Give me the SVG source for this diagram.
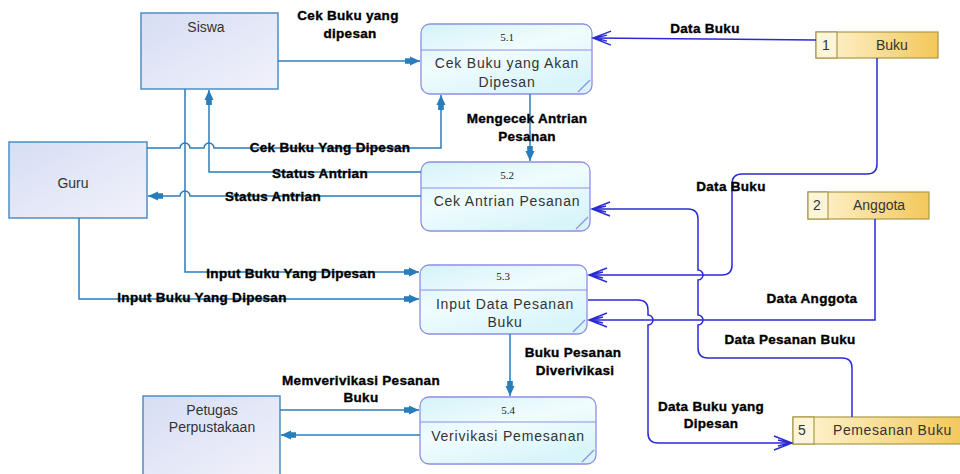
<svg xmlns="http://www.w3.org/2000/svg" width="960" height="474" viewBox="0 0 960 474">
  <defs>
    <linearGradient id="gEnt" x1="0" y1="0" x2="1" y2="1">
      <stop offset="0" stop-color="#d6def4"/>
      <stop offset="1" stop-color="#f1f1fa"/>
    </linearGradient>
    <linearGradient id="gProc" x1="0" y1="0" x2="0.6" y2="1">
      <stop offset="0" stop-color="#d4f3f9"/>
      <stop offset="0.5" stop-color="#f1fcfe"/>
      <stop offset="1" stop-color="#d8f5fa"/>
    </linearGradient>
    <linearGradient id="gStore" x1="0" y1="0" x2="1" y2="0">
      <stop offset="0" stop-color="#fff6d6"/>
      <stop offset="1" stop-color="#f3c75a"/>
    </linearGradient>
    <!-- filled arrowhead used on entity flows -->
    <marker id="fa" viewBox="-16 -6 18 12" refX="0" refY="0" markerWidth="18" markerHeight="12" markerUnits="userSpaceOnUse" orient="auto" overflow="visible">
      <path d="M-10,-4.5 L0,0 L-10,4.5 Z M-15,-2.8 H-8 V2.8 H-15 Z" fill="#2a7dbb"/>
    </marker>
    <!-- open arrowhead used on data store flows -->
    <marker id="oa" viewBox="-20 -9 22 18" refX="0" refY="0" markerWidth="22" markerHeight="18" markerUnits="userSpaceOnUse" orient="auto" overflow="visible">
      <path d="M-18,-7 L0,0 L-18,7 M-14,-3 L-2,0 L-14,3" fill="none" stroke="#2a2ad4" stroke-width="1.4"/>
    </marker>
    <style>
      .ent { fill: url(#gEnt); stroke: #4f8ec2; stroke-width: 1.5; }
      .proc { fill: url(#gProc); stroke: #8f8fe4; stroke-width: 1.3; }
      .sep { stroke: #8f8fe4; stroke-width: 1.2; fill: none; }
      .store { fill: url(#gStore); stroke: #a99a48; stroke-width: 1.2; }
      .storeNum { fill: #fdf5da; stroke: #a99a48; stroke-width: 1.2; }
      .ntxt { font-family: "Liberation Sans", Arial, sans-serif; font-size: 14px; fill: #333; text-anchor: middle; }
      .ptxt { font-family: "Liberation Sans", Arial, sans-serif; font-size: 14px; fill: #333; text-anchor: middle; letter-spacing: 0.8px; }
      .pnum { font-family: "Liberation Serif", "Times New Roman", serif; font-size: 11px; fill: #222; text-anchor: middle; }
      .stxt { font-family: "Liberation Sans", Arial, sans-serif; font-size: 14px; fill: #333; }
      .lbl { font-family: "Liberation Sans", Arial, sans-serif; font-size: 13.5px; font-weight: bold; fill: #000; stroke: #000; stroke-width: 0.35; text-anchor: middle; letter-spacing: 0.3px; }
      .fe { fill: none; stroke: #2a7dbb; stroke-width: 1.5; marker-end: url(#fa); }
      .fs { fill: none; stroke: #2a2ad4; stroke-width: 1.5; marker-end: url(#oa); }
    </style>
  </defs>

  <!-- external entities -->
  <g id="siswa">
    <rect class="ent" x="141" y="13" width="137" height="76"/>
    <text class="ntxt" x="206" y="32">Siswa</text>
  </g>
  <g id="guru">
    <rect class="ent" x="9" y="142" width="138" height="76"/>
    <text class="ntxt" x="73" y="188">Guru</text>
  </g>
  <g id="petugas">
    <rect class="ent" x="143" y="396" width="137" height="80"/>
    <text class="ntxt" x="212" y="415">Petugas</text>
    <text class="ntxt" x="212" y="432">Perpustakaan</text>
  </g>

  <!-- processes -->
  <g id="p51">
    <rect class="proc" x="421" y="24" width="171" height="70" rx="9"/>
    <line class="sep" x1="421" y1="50" x2="592" y2="50"/>
    <path class="sep" d="M578,92 L590,80"/>
    <text class="pnum" x="507" y="41">5.1</text>
    <text class="ptxt" x="507" y="68">Cek Buku yang Akan</text>
    <text class="ptxt" x="507" y="87">Dipesan</text>
  </g>
  <g id="p52">
    <rect class="proc" x="421" y="162" width="169" height="69" rx="9"/>
    <line class="sep" x1="421" y1="188" x2="590" y2="188"/>
    <path class="sep" d="M576,229 L588,217"/>
    <text class="pnum" x="507" y="179">5.2</text>
    <text class="ptxt" x="507" y="206">Cek Antrian Pesanan</text>
  </g>
  <g id="p53">
    <rect class="proc" x="420" y="265" width="167" height="69" rx="9"/>
    <line class="sep" x1="420" y1="290" x2="587" y2="290"/>
    <path class="sep" d="M573,332 L585,320"/>
    <text class="pnum" x="503" y="280">5.3</text>
    <text class="ptxt" x="505" y="309">Input Data Pesanan</text>
    <text class="ptxt" x="505" y="327">Buku</text>
  </g>
  <g id="p54">
    <rect class="proc" x="420" y="397" width="176" height="67" rx="9"/>
    <line class="sep" x1="420" y1="422" x2="596" y2="422"/>
    <path class="sep" d="M582,462 L594,450"/>
    <text class="pnum" x="508" y="414">5.4</text>
    <text class="ptxt" x="508" y="441">Verivikasi Pemesanan</text>
  </g>

  <!-- data stores -->
  <g id="ds1">
    <rect class="store" x="816" y="32" width="122" height="26"/>
    <rect class="storeNum" x="816" y="32" width="21" height="26"/>
    <text class="stxt" x="822" y="50">1</text>
    <text class="stxt" x="876" y="50">Buku</text>
  </g>
  <g id="ds2">
    <rect class="store" x="808" y="192" width="121" height="27"/>
    <rect class="storeNum" x="808" y="192" width="20" height="27"/>
    <text class="stxt" x="813" y="210">2</text>
    <text class="stxt" x="853" y="210">Anggota</text>
  </g>
  <g id="ds5">
    <rect class="store" x="793" y="417" width="170" height="27"/>
    <rect class="storeNum" x="793" y="417" width="21" height="27"/>
    <text class="stxt" x="798" y="435">5</text>
    <text class="stxt" x="833" y="435" letter-spacing="0.6">Pemesanan Buku</text>
  </g>

  <!-- data flows -->
  <g id="connectors">
    <!-- Siswa -> 5.1 -->
    <path class="fe" d="M278,61 L420,61"/>
    <!-- Guru -> 5.1 -->
    <path class="fe" d="M147,148 L180,148 A5,5 0 0 1 190,148 L204,148 A5,5 0 0 1 214,148 L441,148 L441,95"/>
    <!-- 5.2 -> Siswa -->
    <path class="fe" d="M421,172 L209,172 L209,90"/>
    <!-- 5.2 -> Guru -->
    <path class="fe" d="M421,196 L190,196 A5,5 0 0 0 180,196 L148,196"/>
    <!-- Siswa -> 5.3 -->
    <path class="fe" d="M185,89 L185,272 L419,272"/>
    <!-- Guru -> 5.3 -->
    <path class="fe" d="M79,218 L79,299 L419,299"/>
    <!-- 5.1 -> 5.2 -->
    <path class="fe" d="M530,94 L530,161"/>
    <!-- 5.3 -> 5.4 -->
    <path class="fe" d="M510,334 L510,396"/>
    <!-- Petugas -> 5.4 -->
    <path class="fe" d="M280,410 L419,410"/>
    <!-- 5.4 -> Petugas -->
    <path class="fe" d="M420,435 L281,435"/>

    <!-- Buku -> 5.1 -->
    <path class="fs" d="M816,40 L593,38"/>
    <!-- Buku -> 5.3 -->
    <path class="fs" d="M877,58 L877,164 Q877,174 867,174 L742,174 Q732,174 732,184 L732,265 Q732,275 722,275 L589,275"/>
    <!-- Anggota -> 5.3 -->
    <path class="fs" d="M875,219 L875,320 L589,320"/>
    <!-- Pemesanan Buku -> 5.2 -->
    <path class="fs" d="M852,417 L852,368 Q852,358 842,358 L708,358 Q698,358 698,348 L698,325 A5,5 0 0 0 698,315 L698,280 A5,5 0 0 0 698,270 L698,219 Q698,209 688,209 L592,209"/>
    <!-- 5.3 -> Pemesanan Buku -->
    <path class="fs" d="M588,300 L638,300 Q648,300 648,310 L648,315 A5,5 0 0 1 648,325 L648,433 Q648,443 658,443 L792,443"/>
  </g>

  <!-- flow labels -->
  <g id="labels">
    <text class="lbl" x="348" y="20">Cek Buku yang</text>
    <text class="lbl" x="350" y="38">dipesan</text>
    <text class="lbl" x="330" y="152">Cek Buku Yang Dipesan</text>
    <text class="lbl" x="320" y="178">Status Antrian</text>
    <text class="lbl" x="273" y="201">Status Antrian</text>
    <text class="lbl" x="291" y="278">Input Buku Yang Dipesan</text>
    <text class="lbl" x="202" y="302">Input Buku Yang Dipesan</text>
    <text class="lbl" x="527" y="123">Mengecek Antrian</text>
    <text class="lbl" x="527" y="141">Pesanan</text>
    <text class="lbl" x="573" y="357">Buku Pesanan</text>
    <text class="lbl" x="575" y="375">Diverivikasi</text>
    <text class="lbl" x="361" y="385">Memverivikasi Pesanan</text>
    <text class="lbl" x="361" y="402">Buku</text>
    <text class="lbl" x="705" y="33">Data Buku</text>
    <text class="lbl" x="731" y="191">Data Buku</text>
    <text class="lbl" x="812" y="303">Data Anggota</text>
    <text class="lbl" x="790" y="344">Data Pesanan Buku</text>
    <text class="lbl" x="711" y="411">Data Buku yang</text>
    <text class="lbl" x="711" y="428">Dipesan</text>
  </g>
</svg>
